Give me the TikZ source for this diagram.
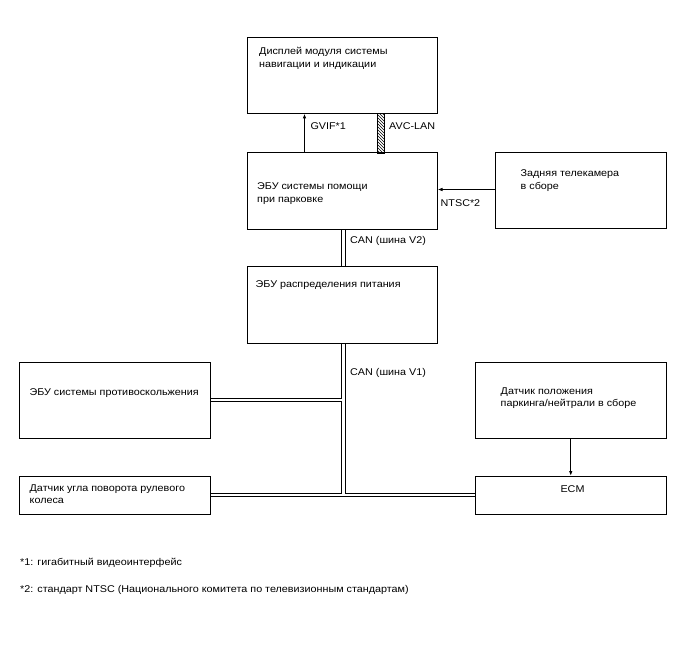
\documentclass[tikz,border=0pt]{standalone}
\usepackage{fontspec}
\setmainfont{Liberation Sans}[FakeStretch=1.1]
\usetikzlibrary{patterns,arrows.meta,calc}
\pgfdeclarelayer{background}
\pgfsetlayers{background,main}
\begin{document}
\begin{tikzpicture}[x=1pt,y=-1pt,
  box/.style={draw, line width=1pt, inner sep=0pt, outer sep=0pt, anchor=north west},
  txt/.style={anchor=base west, inner sep=0pt, align=left, font=\fontsize{9.8}{12.5}\selectfont},
  busout/.style={line width=4.6pt, draw=black},
  busin/.style={line width=2.1pt, draw=white},
  arr/.style={line width=1pt, -{Latex[length=5pt,width=3.6pt]}}
]
\useasboundingbox (0,0) rectangle (688,658);

% boxes
\node[box, minimum width=190, minimum height=76] (disp) at (247.5,37.5) {};
\node[box, minimum width=190, minimum height=76] (park) at (247.5,153) {};
\node[box, minimum width=171.5, minimum height=76] (cam) at (495,152.5) {};
\node[box, minimum width=190, minimum height=77] (power) at (247.5,266) {};
\node[box, minimum width=190.5, minimum height=76] (anti) at (19.5,362) {};
\node[box, minimum width=190.5, minimum height=38] (steer) at (19.5,476) {};
\node[box, minimum width=190.5, minimum height=76] (pn) at (475.5,362) {};
\node[box, minimum width=190.5, minimum height=38] (ecm) at (475.5,476) {};

% box texts (base anchor = last line)
\node[txt] (tdisp) at (259,67.5) {Дисплей модуля системы\\навигации и индикации};
\node[txt] (tpark) at (257,202) {ЭБУ системы помощи\\при парковке};
\node[txt] (tcam) at (520.5,189) {Задняя телекамера\\в сборе};
\node[txt] (tpower) at (255.5,287.3) {ЭБУ распределения питания};
\node[txt] (tanti) at (29.3,395) {ЭБУ системы противоскольжения};
\node[txt] (tsteer) at (29.5,503.5) {Датчик угла поворота рулевого\\колеса};
\node[txt] (tpn) at (500.5,406.5) {Датчик положения\\паркинга/нейтрали в сборе};
\node[txt, anchor=base] (tecm) at (572.5,492.3) {ECM};

% bus connections
\coordinate (vtop) at ([xshift=1pt]power.south);
\coordinate (j) at (vtop |- ecm.west);
\begin{pgfonlayer}{background}
  \draw[busout] ([xshift=1pt]park.south) -- ([xshift=1pt]power.north);
  \draw[busout] (vtop) -- (j) -- (ecm.west);
  \draw[busout] (steer.east) -- (j);
  \draw[busout] (anti.east) -- (anti.east -| j);
  \draw[busin] ([xshift=1pt]park.south) -- ([xshift=1pt]power.north);
  \draw[busin] (vtop) -- (j) -- (ecm.west);
  \draw[busin] (steer.east) -- (j);
  \draw[busin] (anti.east) -- (anti.east -| j);
\end{pgfonlayer}

% AVC-LAN hatched link
\coordinate (avc) at ($(disp.south west)+(133,0)$);
\draw[line width=0.7pt, pattern=north west lines] ([xshift=-3.5pt]avc) rectangle ([xshift=3.5pt]avc |- park.north);

% arrows
\coordinate (gv) at ($(disp.south west)+(57,0)$);
\draw[arr] (gv |- park.north) -- (gv);
\coordinate (nt) at ([yshift=1pt]cam.west);
\draw[arr] (nt) -- (nt -| park.east);
\draw[arr] (pn.south) -- (pn.south |- ecm.north);

% labels
\node[txt] (lgvif) at (310.3,129.3) {GVIF*1};
\node[txt] (lavc) at (389,129.3) {AVC-LAN};
\node[txt] (lntsc) at (440.5,206.5) {NTSC*2};
\node[txt] (lcan2) at (350,243.3) {CAN (шина V2)};
\node[txt] (lcan1) at (350,375.5) {CAN (шина V1)};

% footnotes
\node[txt] (f1) at (20,565) {*1: гигабитный видеоинтерфейс};
\node[txt] (f2) at (20,592) {*2: стандарт NTSC (Национального комитета по телевизионным стандартам)};
\end{tikzpicture}
\end{document}
